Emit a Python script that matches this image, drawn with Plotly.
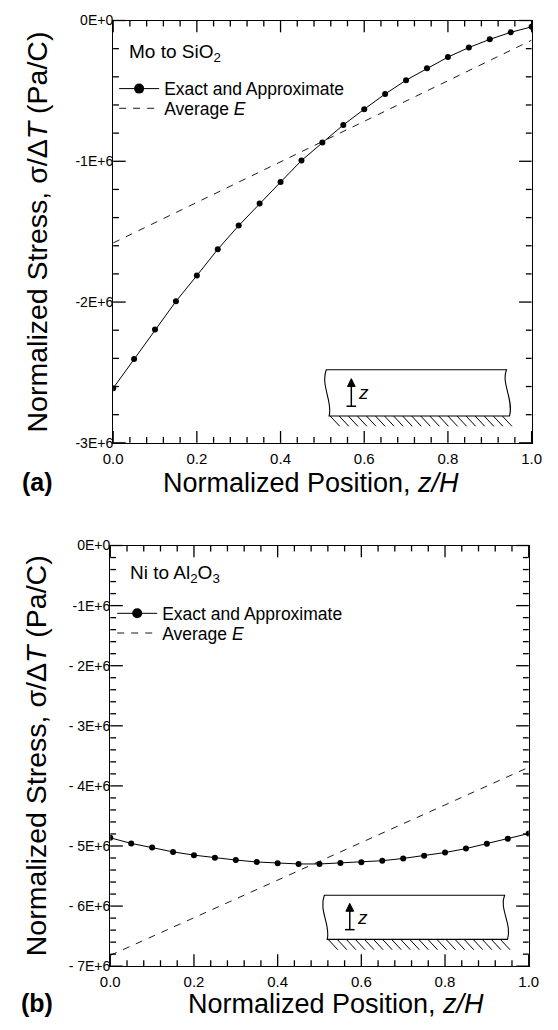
import numpy as np
import plotly.graph_objects as go

# ---------------- data ----------------
z_pos = [0.00, 0.05, 0.10, 0.15, 0.20, 0.25, 0.30, 0.35, 0.40, 0.45, 0.50,
         0.55, 0.60, 0.65, 0.70, 0.75, 0.80, 0.85, 0.90, 0.95, 1.00]

# (a) Mo to SiO2 -- normalized stress (Pa/C)
mo_exact = [-2.612e6, -2.405e6, -2.195e6, -1.995e6, -1.812e6, -1.625e6, -1.457e6,
            -1.300e6, -1.148e6, -0.995e6, -0.867e6, -0.742e6, -0.630e6, -0.522e6,
            -0.424e6, -0.340e6, -0.260e6, -0.192e6, -0.134e6, -0.084e6, -0.045e6]
avg_z = [0.0, 1.0]
mo_avg = [-1.58e6, -0.14e6]

# (b) Ni to Al2O3
ni_exact = [-4.864e6, -4.957e6, -5.027e6, -5.098e6, -5.152e6, -5.196e6, -5.234e6,
            -5.266e6, -5.288e6, -5.299e6, -5.299e6, -5.283e6, -5.272e6, -5.245e6,
            -5.207e6, -5.163e6, -5.109e6, -5.043e6, -4.962e6, -4.880e6, -4.793e6]
ni_avg = [-6.82e6, -3.69e6]

x_tickvals = [0.0, 0.2, 0.4, 0.6, 0.8, 1.0]
x_ticktext = ["0.0", "0.2", "0.4", "0.6", "0.8", "1.0"]
ya_tickvals = [0, -1e6, -2e6, -3e6]
ya_ticktext = ["0E+0", "-1E+6", "-2E+6", "-3E+6"]
yb_tickvals = [0, -1e6, -2e6, -3e6, -4e6, -5e6, -6e6, -7e6]
yb_ticktext = ["0E+0", "-1E+6", "- 2E+6", "- 3E+6", "- 4E+6", "- 5E+6", "- 6E+6", "- 7E+6"]
x_minor_step = 0.04
y_minor_step = 2e5

W, H = 558, 1030
FONT = "Liberation Sans, Arial, Helvetica, sans-serif"


def fx(x):
    return x / W


def fy(y):
    return 1 - y / H


# panel geometry (pixels)
A_X0, A_X1, A_Y0, A_Y1 = 107, 541, 12.7, 441.7
B_X0, B_X1, B_Y0, B_Y1 = 104, 538, 546, 973.3

fig = go.Figure()

line_style = dict(color="black", width=1)
dash_style = dict(color="black", width=0.9, dash="7px,7px")

fig.add_trace(go.Scatter(x=z_pos, y=mo_exact, mode="lines+markers", line=line_style,
                         marker=dict(color="black", size=6), showlegend=False,
                         xaxis="x", yaxis="y"))
fig.add_trace(go.Scatter(x=avg_z, y=mo_avg, mode="lines", line=dash_style, showlegend=False,
                         xaxis="x", yaxis="y"))
fig.add_trace(go.Scatter(x=z_pos, y=ni_exact, mode="lines+markers", line=line_style,
                         marker=dict(color="black", size=6), showlegend=False,
                         xaxis="x2", yaxis="y2"))
fig.add_trace(go.Scatter(x=avg_z, y=ni_avg, mode="lines", line=dash_style, showlegend=False,
                         xaxis="x2", yaxis="y2"))

# legend keys
for leg, ax, ay in [("legend", "x", "y"), ("legend3", "x2", "y2")]:
    fig.add_trace(go.Scatter(x=[None], y=[None], mode="lines+markers",
                             line=dict(color="black", width=1),
                             marker=dict(color="black", size=10),
                             name="Exact and Approximate", legend=leg, xaxis=ax, yaxis=ay))
for leg, ax, ay in [("legend2", "x", "y"), ("legend4", "x2", "y2")]:
    fig.add_trace(go.Scatter(x=[None], y=[None], mode="lines",
                             line=dict(color="black", width=0.9, dash="7px,7px"),
                             name="Average <i>E</i>", legend=leg, xaxis=ax, yaxis=ay))

tickfont_x = dict(family=FONT, size=15, color="black")
tickfont_y = dict(family=FONT, size=14, color="black")


def main_x(domain, anchor):
    return dict(domain=domain, anchor=anchor, range=[0, 1],
                tickmode="array", tickvals=x_tickvals, ticktext=x_ticktext, ticks="",
                showline=True, linecolor="black", linewidth=1.3, mirror=True,
                showgrid=False, zeroline=False, tickfont=tickfont_x, ticklabelstandoff=2)


def main_y(domain, anchor, rng, vals, text):
    return dict(domain=domain, anchor=anchor, range=rng,
                tickmode="array", tickvals=vals, ticktext=text, ticks="",
                showline=True, linecolor="black", linewidth=1.3, mirror=True,
                showgrid=False, zeroline=False, tickfont=tickfont_y, ticklabelstandoff=-4)


leg_common = dict(xanchor="left", yanchor="middle", bgcolor="rgba(0,0,0,0)",
                  font=dict(family=FONT, size=17.5, color="black"),
                  itemwidth=40, borderwidth=0)

fig.update_layout(
    width=W, height=H, autosize=False,
    margin=dict(l=0, r=0, t=0, b=0),
    paper_bgcolor="white", plot_bgcolor="white",
    font=dict(family=FONT, color="black"),
    xaxis=main_x([fx(A_X0), fx(A_X1)], "y"),
    yaxis=main_y([fy(A_Y1), fy(A_Y0)], "x", [-3e6, 0], ya_tickvals, ya_ticktext),
    xaxis2=main_x([fx(B_X0), fx(B_X1)], "y2"),
    yaxis2=main_y([fy(B_Y1), fy(B_Y0)], "x2", [-7e6, 0], yb_tickvals, yb_ticktext),
    legend=dict(x=fx(108), y=fy(82), **leg_common),
    legend2=dict(x=fx(108), y=fy(102), **leg_common),
    legend3=dict(x=fx(106), y=fy(615), **leg_common),
    legend4=dict(x=fx(106), y=fy(635), **leg_common),
    showlegend=True,
)

ytitle = "Normalized Stress, σ/Δ<i>T</i> (Pa/C)"
xtitle = "Normalized Position, <i>z/H</i>"
annotations = [
    dict(text=ytitle, x=fx(28), y=fy(227), textangle=-90, font=dict(size=28.5)),
    dict(text=ytitle, x=fx(27), y=fy(760), textangle=-90, font=dict(size=28.5)),
    dict(text=xtitle, x=fx(312), y=fy(483), font=dict(size=27)),
    dict(text=xtitle, x=fx(338), y=fy(1012), font=dict(size=27)),
    dict(text="<b>(a)</b>", x=fx(29), y=fy(481), font=dict(size=25)),
    dict(text="<b>(b)</b>", x=fx(28), y=fy(1011), font=dict(size=25)),
    dict(text="Mo to SiO<sub>2</sub>", x=fx(121), y=fy(46), xanchor="left", font=dict(size=19)),
    dict(text="Ni to Al<sub>2</sub>O<sub>3</sub>", x=fx(122), y=fy(575), xanchor="left", font=dict(size=19)),
    dict(text="<i>z</i>", x=fx(367), y=fy(391), font=dict(size=19)),
    dict(text="<i>z</i>", x=fx(366), y=fy(924), font=dict(size=19)),
]
for a in annotations:
    a.setdefault("xanchor", "center")
    a.setdefault("yanchor", "middle")
    a["xref"] = "paper"
    a["yref"] = "paper"
    a["showarrow"] = False
    a["font"].update(family=FONT, color="black")
fig.update_layout(annotations=annotations)

shapes = []


# ---------------- inward frame ticks (from the tick values and the panel scale) ----------------
def frame_ticks(X0, X1, Y0, Y1, ymin):
    tk = dict(color="black", width=1.3)
    out = []
    xs = np.round(np.arange(0, 1 + 1e-9, x_minor_step), 4)
    ys = np.arange(0, ymin - 1, -y_minor_step)

    def xp(v):
        return X0 + v * (X1 - X0)

    def yp(v):
        return Y0 + (v / ymin) * (Y1 - Y0)

    for v in xs:
        major = any(abs(v - t) < 1e-6 for t in x_tickvals)
        ln = 12 if major else 6
        px = xp(v)
        out.append(dict(type="line", x0=fx(px), x1=fx(px), y0=fy(Y1), y1=fy(Y1 - ln), line=tk))
        out.append(dict(type="line", x0=fx(px), x1=fx(px), y0=fy(Y0), y1=fy(Y0 + ln), line=tk))
    for v in ys:
        major = abs(v / 1e6 - round(v / 1e6)) < 1e-6
        ln = 13 if major else 6
        py = yp(v)
        out.append(dict(type="line", x0=fx(X0), x1=fx(X0 + ln), y0=fy(py), y1=fy(py), line=tk))
        out.append(dict(type="line", x0=fx(X1), x1=fx(X1 - ln), y0=fy(py), y1=fy(py), line=tk))
    for s in out:
        s["xref"] = "paper"
        s["yref"] = "paper"
    return out


shapes += frame_ticks(A_X0, A_X1, A_Y0, A_Y1, -3e6)
shapes += frame_ticks(B_X0, B_X1, B_Y0, B_Y1, -7e6)


# ---------------- inset schematic (substrate sketch) ----------------
def P(x, y):
    return f"{fx(x):.5f},{fy(y):.5f}"


def inset_shapes(x0, x1, ytop, ybot, ax, a_top, a_bot):
    shp = []
    path = (f"M {P(x0, ytop)} L {P(x1, ytop)} "
            f"C {P(x1 - 6, ytop + 13)} {P(x1 + 8, ybot - 15)} {P(x1 + 3, ybot)} "
            f"L {P(x0 + 3, ybot)} "
            f"C {P(x0 + 7, ybot - 14)} {P(x0 - 6, ytop + 16)} {P(x0, ytop)} Z")
    shp.append(dict(type="path", path=path, fillcolor="rgba(0,0,0,0)",
                    line=dict(color="black", width=1.1)))
    for hx in np.arange(x0 + 4, x1 + 4, 9.4):
        shp.append(dict(type="line", x0=fx(hx), y0=fy(ybot), x1=fx(hx + 10), y1=fy(ybot + 10.5),
                        line=dict(color="black", width=1)))
    shp.append(dict(type="line", x0=fx(ax), y0=fy(a_bot), x1=fx(ax), y1=fy(a_top + 6),
                    line=dict(color="black", width=1.5)))
    shp.append(dict(type="line", x0=fx(ax - 5), y0=fy(a_bot), x1=fx(ax + 5), y1=fy(a_bot),
                    line=dict(color="black", width=1.5)))
    shp.append(dict(type="path", path=f"M {P(ax, a_top)} L {P(ax - 4, a_top + 8)} L {P(ax + 4, a_top + 8)} Z",
                    fillcolor="black", line=dict(color="black", width=1)))
    for s in shp:
        s["xref"] = "paper"
        s["yref"] = "paper"
    return shp


shapes += inset_shapes(328, 515, 367.5, 414.4, 354, 376.5, 404.5)
shapes += inset_shapes(326, 513, 901.2, 946.1, 352.4, 909.5, 936.2)
fig.update_layout(shapes=shapes)

fig.write_html("out.html")
